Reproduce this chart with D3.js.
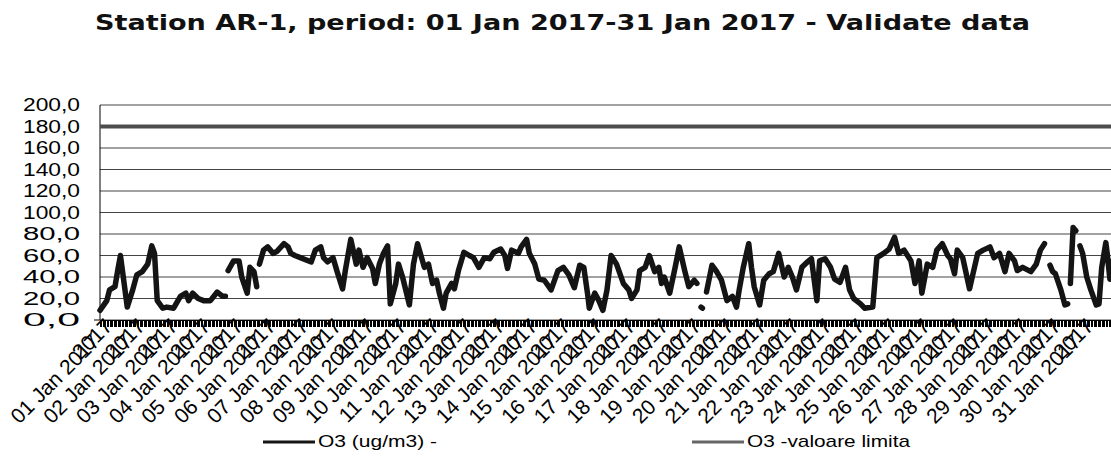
<!DOCTYPE html>
<html><head><meta charset="utf-8">
<script src="https://cdn.jsdelivr.net/npm/d3@7/dist/d3.min.js"></script>
<style>body{margin:0;background:#fff}svg{display:block}</style>
</head><body>
<svg id="chart" width="1111" height="457"></svg>
<script>
// ---- data (hour index from 01 Jan 2017 00:00, O3 in ug/m3; null = missing) ----
const hours = [0,5,7,11,13,15,20,24,27,31,35,38,40,42,46,49,54,59,63,65,68,72,76,81,86,90,92,93,
94,98,102,104,108,110,113,115,116,
117,120,123,127,130,135,138,140,143,147,155,158,162,164,167,171,174,178,180,184,188,190,193,196,200,202,205,208,211,213,217,219,222,227,230,233,235,238,241,244,247,249,252,254,258,260,263,267,271,274,278,282,286,289,294,297,299,302,307,309,313,315,319,322,326,331,336,340,344,348,352,355,358,359,363,366,369,372,375,379,384,388,390,394,396,400,403,407,410,412,414,418,422,425,429,432,436,438,439,
441,442,443,
445,449,452,456,460,464,467,469,472,476,478,480,484,487,491,494,498,502,505,508,511,515,519,522,526,528,532,536,539,543,547,550,553,558,561,567,570,575,579,583,586,590,595,598,601,603,607,611,614,618,622,624,627,629,633,638,640,644,648,653,656,660,664,667,671,673,677,683,687,690,693,694,
697,699,701,705,708,710,711,
712,714,716,717,
719,721,724,727,731,733,735,738,739,741,743];
const o3 = [9,18,28,31,46,60,12,28,42,45,52,69,62,18,11,12,11,22,25,18,25,20,18,18,26,22,22,null,
46,55,55,40,25,49,45,31,null,
52,65,68,62,64,71,68,62,60,58,54,65,68,58,54,58,45,29,46,75,52,65,49,58,48,34,52,62,69,15,34,52,40,14,52,71,62,49,52,34,37,25,11,25,34,29,46,63,60,58,49,58,57,63,66,60,48,65,62,68,75,62,52,38,37,28,46,49,42,30,51,49,22,11,25,18,9,28,60,52,34,28,20,28,46,49,60,45,49,34,40,25,49,68,46,31,37,34,null,
12,11,null,
26,51,46,37,18,22,12,28,49,71,49,31,14,37,43,45,62,40,49,40,28,49,54,57,18,55,57,49,38,35,49,28,20,15,11,12,58,62,66,77,62,65,55,34,55,25,52,49,65,71,60,57,43,65,58,29,40,62,65,68,58,62,45,62,55,46,49,45,52,65,71,null,
51,45,43,28,14,15,null,
34,86,83,null,
69,62,40,28,14,15,49,72,62,38,55];
const limitValue = 180;
const yTicks = [0,20,40,60,80,100,120,140,160,180,200];
const dayLabels = ["01 Jan 2017","02 Jan 2017","03 Jan 2017","04 Jan 2017","05 Jan 2017","06 Jan 2017","07 Jan 2017","08 Jan 2017","09 Jan 2017","10 Jan 2017","11 Jan 2017","12 Jan 2017","13 Jan 2017","14 Jan 2017","15 Jan 2017","16 Jan 2017","17 Jan 2017","18 Jan 2017","19 Jan 2017","20 Jan 2017","21 Jan 2017","22 Jan 2017","23 Jan 2017","24 Jan 2017","25 Jan 2017","26 Jan 2017","27 Jan 2017","28 Jan 2017","29 Jan 2017","30 Jan 2017","31 Jan 2017"];
const seriesNames = ["O3 (ug/m3)  -", "O3 -valoare limita"];
const titleText = "Station AR-1, period: 01 Jan 2017-31 Jan 2017 - Validate data";

// ---- layout ----
const svg = d3.select("#chart");
const pL = 100, pR = 1114, pT = 105, pB = 320;
const x = d3.scaleLinear().domain([0, 744]).range([pL, pR]);
const y = d3.scaleLinear().domain([0, 200]).range([pB, pT]);
const FONT = "'Liberation Sans', Arial, sans-serif";

// title
svg.append("text").attr("x", 95).attr("y", 30)
  .attr("font-family", "'DejaVu Sans', Verdana, sans-serif").attr("font-weight", "bold")
  .attr("font-size", 20.5).attr("textLength", 935).attr("lengthAdjust", "spacingAndGlyphs")
  .attr("fill", "#111").text(titleText);

// gridlines
svg.append("g").selectAll("line").data(yTicks.filter(v => v !== limitValue)).join("line")
  .attr("x1", pL).attr("x2", 1111).attr("y1", d => y(d)).attr("y2", d => y(d))
  .attr("stroke", "#444").attr("stroke-width", 1);

// y labels
svg.append("g").selectAll("text").data(yTicks).join("text")
  .attr("x", 80).attr("y", d => y(d) + 6)
  .attr("text-anchor", "end").attr("font-family", FONT).attr("font-size", 17.5)
  .attr("textLength", 57).attr("lengthAdjust", "spacingAndGlyphs").attr("fill", "#000")
  .text(d => d.toFixed(1).replace(".", ","));

// y axis line & zero tick
svg.append("line").attr("x1", pL).attr("x2", pL).attr("y1", y(200)).attr("y2", y(0)).attr("stroke", "#000");
svg.append("line").attr("x1", pL - 6).attr("x2", pL).attr("y1", y(0)).attr("y2", y(0)).attr("stroke", "#000");

// x axis: hourly ticks as dense band
const xAxis = d3.axisBottom(x).tickValues(d3.range(0, 745)).tickSize(7).tickFormat("");
const gx = svg.append("g").attr("transform", `translate(0,${pB})`).call(xAxis);
gx.select(".domain").attr("stroke", "#000");
gx.selectAll(".tick line").attr("stroke", "#000").attr("stroke-width", 1).attr("shape-rendering", "crispEdges");

// day labels
const lab = svg.append("g");
dayLabels.forEach((t, i) => {
  const px = x(i * 24);
  lab.append("text").attr("transform", `translate(${px + 1},${343}) rotate(-45)`)
    .attr("text-anchor", "end").attr("font-family", FONT).attr("font-size", 21).attr("fill", "#000").text(t);
  lab.append("text").attr("transform", `translate(${px + 1},${343}) rotate(-45) translate(20,-2)`)
    .attr("text-anchor", "end").attr("font-family", FONT).attr("font-size", 21).attr("fill", "#000").text("2017");
});

// limit line
svg.append("line").attr("x1", pL).attr("x2", 1111).attr("y1", y(limitValue)).attr("y2", y(limitValue))
  .attr("stroke", "#4d4d4d").attr("stroke-width", 4);

// O3 series
const pts = hours.map((h, i) => ({h, v: o3[i]}));
const line = d3.line().defined(d => d.v !== null).x(d => x(d.h)).y(d => y(d.v));
svg.append("path").datum(pts).attr("d", line).attr("fill", "none")
  .attr("stroke", "#141414").attr("stroke-width", 5.5).attr("stroke-linejoin", "round").attr("stroke-linecap", "round");

// legend
const leg = [{x0: 263, x1: 315, tx: 318, color: "#141414", w: 3}, {x0: 692, x1: 744, tx: 747, color: "#666", w: 3}];
leg.forEach((L, i) => {
  svg.append("line").attr("x1", L.x0).attr("x2", L.x1).attr("y1", 442).attr("y2", 442)
    .attr("stroke", L.color).attr("stroke-width", L.w);
  svg.append("text").attr("x", L.tx).attr("y", 447).attr("font-family", FONT).attr("font-size", 17)
    .attr("textLength", i === 0 ? 119 : 163).attr("lengthAdjust", "spacingAndGlyphs")
    .attr("fill", "#000").text(seriesNames[i]);
});
</script>
</body></html>
